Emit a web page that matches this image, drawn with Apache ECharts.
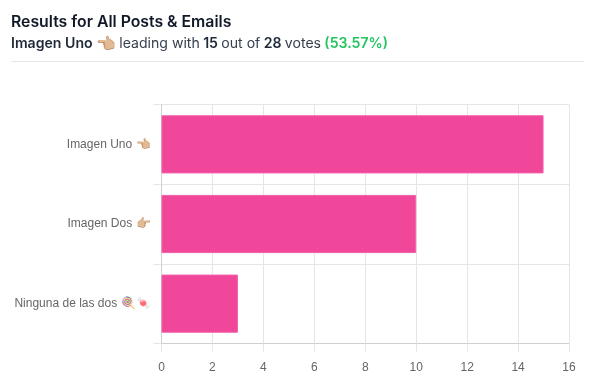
<!DOCTYPE html>
<html>
<head>
<meta charset="utf-8">
<script src="https://cdn.jsdelivr.net/npm/echarts@6/dist/echarts.min.js"></script>
<style>
  html, body { margin: 0; padding: 0; background: #fff; }
  #chart { width: 595px; height: 391px; }
</style>
</head>
<body>
<div id="chart"></div>
<script>
const categories = ['Imagen Uno 👈🏼', 'Imagen Dos 👉🏼', 'Ninguna de las dos 🍭🍬']
const votes = [15, 10, 3]
const axisMax = 16
const axisStep = 2

const chart = echarts.init(document.getElementById('chart'), null, { renderer: 'canvas' })

const gridLine = { color: '#e5e5e5', width: 1 }
const axisEdge = { color: '#cfcfcf', width: 1 }

chart.setOption({
  animation: false,
  title: [
    {
      text: 'Results for All Posts & Emails',
      left: 11,
      top: 14,
      padding: 0,
      textStyle: { fontFamily: 'Inter', fontSize: 15.8, fontWeight: 600, color: '#111827' }
    },
    {
      text: '{b|Imagen Uno} {e|👈🏼} {n|leading with} {b|15} {n|out of} {b|28} {n|votes} {g|(53.57%)}',
      left: 11,
      top: 36,
      padding: 0,
      textStyle: {
        fontFamily: 'Inter',
        fontSize: 14.1,
        rich: {
          b: { fontFamily: 'Inter', fontSize: 14.1, fontWeight: 600, color: '#1f2937' },
          e: { fontFamily: 'Inter', fontSize: 16, color: '#374151' },
          n: { fontFamily: 'Inter', fontSize: 14.1, fontWeight: 400, color: '#374151' },
          g: { fontFamily: 'Inter', fontSize: 14.1, fontWeight: 600, color: '#22c55e' }
        }
      }
    }
  ],
  graphic: [
    {
      type: 'line',
      shape: { x1: 11, y1: 61.5, x2: 584, y2: 61.5 },
      style: { stroke: '#e5e7eb', lineWidth: 1 }
    }
  ],
  grid: { left: 161.5, right: 26, top: 104.5, bottom: 47.5 },
  xAxis: {
    type: 'value',
    min: 0,
    max: axisMax,
    interval: axisStep,
    axisLine: { show: true, lineStyle: axisEdge },
    axisTick: { show: true, length: 8, lineStyle: gridLine },
    splitLine: { show: true, lineStyle: gridLine },
    axisLabel: { fontFamily: 'Liberation Sans', fontSize: 12, color: '#666', margin: 18 }
  },
  yAxis: {
    type: 'category',
    inverse: true,
    data: categories,
    axisLine: { show: true, lineStyle: axisEdge },
    axisTick: { show: true, length: 8, lineStyle: gridLine },
    splitLine: { show: true, lineStyle: gridLine },
    axisLabel: { fontFamily: 'Liberation Sans', fontSize: 12, color: '#666', margin: 11 }
  },
  series: [
    {
      type: 'bar',
      data: votes,
      barCategoryGap: '27%',
      itemStyle: { color: '#f0479b', borderColor: '#f35fa8', borderWidth: 1 }
    }
  ]
})
</script>
</body>
</html>
